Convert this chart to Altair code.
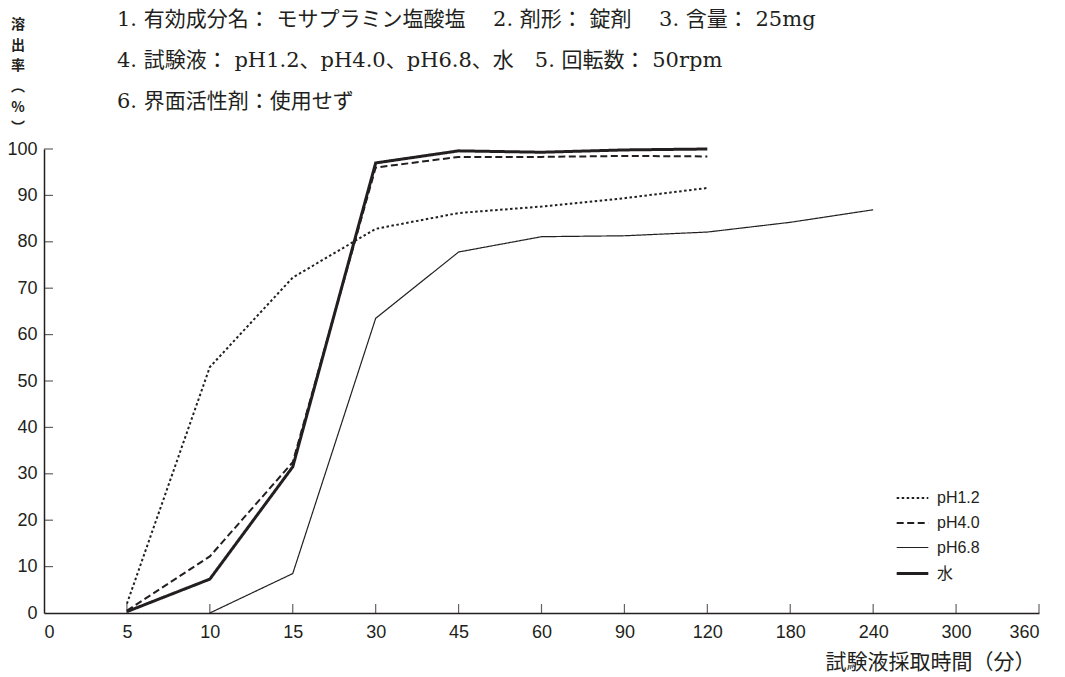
import altair as alt
import pandas as pd

tick_labels = ["0", "5", "10", "15", "30", "45", "60", "90", "120", "180", "240", "300", "360"]
series_names = ["pH1.2", "pH4.0", "pH6.8", "水"]

ph12_t = ["5", "10", "15", "30", "45", "60", "90", "120"]
ph12_v = [2.0, 53.0, 72.3, 82.8, 86.2, 87.6, 89.4, 91.6]
ph40_t = ["5", "10", "15", "30", "45", "60", "90", "120"]
ph40_v = [0.5, 12.2, 32.5, 96.0, 98.3, 98.3, 98.5, 98.4]
ph68_t = ["10", "15", "30", "45", "60", "90", "120", "180", "240"]
ph68_v = [0.0, 8.5, 63.5, 77.8, 81.1, 81.3, 82.1, 84.2, 86.9]
water_t = ["5", "10", "15", "30", "45", "60", "90", "120"]
water_v = [0.3, 7.3, 31.5, 97.0, 99.6, 99.3, 99.8, 100.0]

header_lines = [
    "1.  有効成分名： モサプラミン塩酸塩　 2.  剤形： 錠剤　 3.  含量： 25mg",
    "4.  試験液： pH1.2、pH4.0、pH6.8、水　5.  回転数： 50rpm",
    "6.  界面活性剤：使用せず",
]
ytitle_chars = ["溶", "出", "率", "︵", "%", "︶"]
ytitle_pos = [-124, -103.5, -83, -62, -41.5, -21]

rows = []
for name, ts, vs in [("pH1.2", ph12_t, ph12_v), ("pH4.0", ph40_t, ph40_v),
                     ("pH6.8", ph68_t, ph68_v), ("水", water_t, water_v)]:
    for t, v in zip(ts, vs):
        rows.append({"series": name, "idx": tick_labels.index(t), "value": v, "order": tick_labels.index(t)})
df = pd.DataFrame(rows)

label_expr = "[" + ",".join("'%s'" % s for s in tick_labels) + "][datum.value]"

sans = "Liberation Sans, Arial, Noto Sans CJK JP"
ink = "#231f20"

xscale = alt.Scale(domain=[0, 12], nice=False, zero=False)
yscale = alt.Scale(domain=[0, 100], nice=False)

legend_cfg = dict(title=None, orient="none", legendX=851, legendY=332,
                  symbolType="stroke", symbolSize=1000,
                  symbolStrokeColor=ink, labelFont=sans,
                  labelFontSize=16, labelColor=ink, rowPadding=0,
                  labelOffset=7, padding=0)

lines = alt.Chart(df).mark_line(color=ink, strokeJoin="miter", strokeCap="butt").encode(
    x=alt.X("idx:Q", scale=xscale,
            axis=alt.Axis(values=list(range(13)), labelExpr=label_expr, tickSize=0,
                          labelPadding=10, labelFontSize=18, labelFont=sans, labelColor=ink,
                          domainColor=ink, domainWidth=1.5, grid=False,
                          title="試験液採取時間（分）", titleFont=sans, titleFontSize=21,
                          titleFontWeight="normal", titleColor=ink, titleAlign="right",
                          titleAnchor="end", titleX=991, titleY=49, titleBaseline="middle")),
    y=alt.Y("value:Q", scale=yscale,
            axis=alt.Axis(values=list(range(0, 101, 10)), tickSize=0, labelPadding=7,
                          labelFontSize=18, labelFont=sans, labelColor=ink,
                          domainColor=ink, domainWidth=1.5, grid=False, title=None)),
    strokeDash=alt.StrokeDash("series:N", sort=series_names,
                              scale=alt.Scale(domain=series_names,
                                              range=[[2.5, 2.5], [7, 3.5], [1, 0], [1, 0]]),
                              legend=alt.Legend(**legend_cfg)),
    strokeWidth=alt.StrokeWidth("series:O", sort=series_names,
                                scale=alt.Scale(type="ordinal", domain=series_names, range=[2, 2, 1.2, 3]),
                                legend=alt.Legend(**legend_cfg)),
    detail="series:N",
    order="order:Q",
)

xticks = alt.Chart(pd.DataFrame({"idx": list(range(1, 13)), "value": [0] * 12})).mark_tick(
    orient="vertical", size=9, yOffset=-4.5, color=ink, thickness=1.2
).encode(x=alt.X("idx:Q", scale=xscale), y=alt.Y("value:Q", scale=yscale))

yticks = alt.Chart(pd.DataFrame({"idx": [0] * 10, "value": list(range(10, 101, 10))})).mark_tick(
    orient="horizontal", size=9, xOffset=4.5, color=ink, thickness=1.2
).encode(x=alt.X("idx:Q", scale=xscale), y=alt.Y("value:Q", scale=yscale))

header = alt.Chart(pd.DataFrame({"a": [0]})).mark_text(
    text=header_lines, align="left", baseline="middle", lineHeight=41,
    font="DejaVu Serif, Liberation Serif, Noto Sans CJK JP", fontSize=21, color=ink
).encode(x=alt.value(73), y=alt.value(-129))

ytitle = alt.Chart(pd.DataFrame({"ch": ytitle_chars, "py": ytitle_pos})).mark_text(
    align="center", baseline="middle",
    font="Noto Sans CJK JP", fontSize=14, fontWeight="bold", color=ink
).encode(x=alt.value(-26), y=alt.Y("py:Q", scale=None), text="ch:N")

chart = alt.layer(lines, xticks, yticks, header, ytitle).properties(
    width=995, height=464,
    autosize=alt.AutoSizeParams(type="none"),
    padding={"left": 36, "top": 141, "right": 10, "bottom": 60},
    background="white",
).configure_view(stroke=None)

chart.save("out.html", embed_options={"renderer": "svg", "actions": False})
